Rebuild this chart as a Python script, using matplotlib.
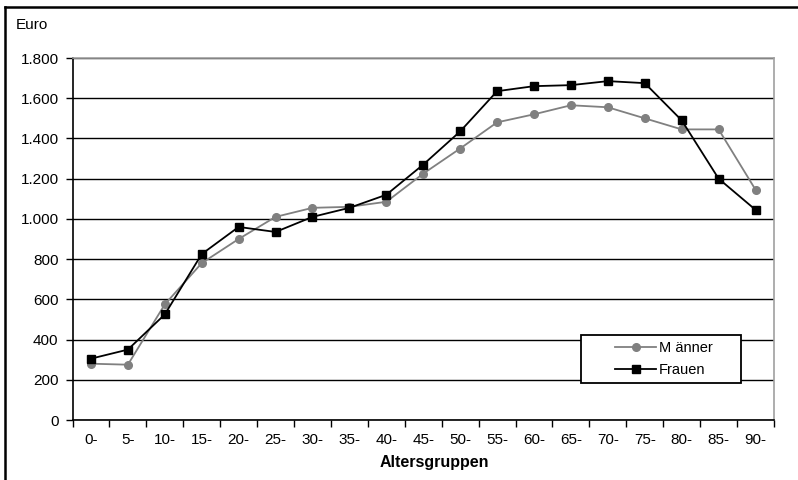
import matplotlib
matplotlib.use('Agg')
import matplotlib.pyplot as plt
from matplotlib.patches import Rectangle
from matplotlib.lines import Line2D
from matplotlib.ticker import FuncFormatter, FixedLocator

plt.rcParams['font.family'] = ['Liberation Sans', 'DejaVu Sans']

groups = ['0-', '5-', '10-', '15-', '20-', '25-', '30-', '35-', '40-', '45-',
          '50-', '55-', '60-', '65-', '70-', '75-', '80-', '85-', '90-']
maenner = [280, 275, 575, 780, 900, 1010, 1055, 1060, 1085, 1225,
           1350, 1480, 1520, 1565, 1555, 1500, 1445, 1445, 1145]
frauen = [305, 350, 525, 825, 960, 935, 1010, 1055, 1120, 1270,
          1435, 1635, 1660, 1665, 1685, 1675, 1490, 1200, 1045]

fig = plt.figure(figsize=(7.98, 4.8), dpi=100)
ax = fig.add_axes([72.5 / 798, 60 / 480, 701.5 / 798, 362 / 480])

x = list(range(len(groups)))
ax.plot(x, maenner, color='#808080', lw=1.3, marker='o', ms=5.5, label='M änner', zorder=3)
ax.plot(x, frauen, color='black', lw=1.3, marker='s', ms=6, label='Frauen', zorder=4)

ax.set_xlim(-0.5, len(groups) - 0.5)
ax.set_ylim(0, 1800)
ax.set_yticks(range(0, 1801, 200))
ax.yaxis.set_major_formatter(FuncFormatter(lambda v, p: f'{int(v):,}'.replace(',', '.')))
ax.set_xticks(x)
ax.set_xticklabels(groups)
ax.xaxis.set_minor_locator(FixedLocator([i - 0.5 for i in range(len(groups) + 1)]))
ax.tick_params(axis='x', which='major', length=0, pad=9, labelsize=11)
ax.tick_params(axis='x', which='minor', length=5, width=1, direction='out')
ax.tick_params(axis='y', length=5, width=1, direction='out', labelsize=11, pad=5)
ax.grid(axis='y', color='black', lw=1)
ax.set_axisbelow(True)
for s in ['top', 'right']:
    ax.spines[s].set_color('#a0a0a0')
    ax.spines[s].set_linewidth(1.2)
for s in ['left', 'bottom']:
    ax.spines[s].set_color('black')
    ax.spines[s].set_linewidth(1.2)

ax.set_xlabel('Altersgruppen', fontsize=11.5, fontweight='bold', va='center')
ax.xaxis.set_label_coords((434 - 72.5) / 701.5, (420 - 463) / 362)
fig.text(16 / 798, 1 - 25 / 480, 'Euro', fontsize=11, va='center', ha='left')

# legend box drawn separately, entries sit right of centre like the original
ax.add_patch(Rectangle((0.725, 0.102), 0.228, 0.132, transform=ax.transAxes,
                       facecolor='white', edgecolor='black', lw=1.3, zorder=5))
leg = ax.legend(loc='center left', bbox_to_anchor=(0.774, 0.168), frameon=False,
                fontsize=10.5, handlelength=2.8, borderpad=0, labelspacing=0.55,
                handletextpad=0.2, borderaxespad=0)
leg.set_zorder(6)

# outer frame (only left and top edges are visible in the original)
fig.add_artist(Line2D([5 / 798, 5 / 798], [0, 1 - 6.5 / 480], transform=fig.transFigure,
                      color='black', lw=1.8))
fig.add_artist(Line2D([5 / 798, 1], [1 - 6.5 / 480, 1 - 6.5 / 480], transform=fig.transFigure,
                      color='black', lw=1.8))

fig.savefig('out.png', dpi=100)
